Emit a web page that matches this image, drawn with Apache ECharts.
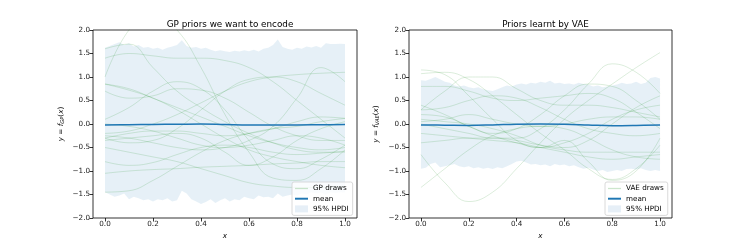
<!DOCTYPE html>
<html><head><meta charset="utf-8">
<script src="https://cdn.jsdelivr.net/npm/echarts/dist/echarts.min.js"></script>
<style>html,body{margin:0;padding:0;background:#fff}#c{width:747px;height:249px}</style>
</head><body><div id="c"></div>
<script>
// ---------- data ----------
const xDraw = [0,0.1,0.2,0.3,0.4,0.5,0.6,0.7,0.8,0.9,1.0];
const xTicks = [0,0.2,0.4,0.6,0.8,1.0];
const yTicks = [-2,-1.5,-1,-0.5,0,0.5,1,1.5,2];

const gpDraws = [
 [1.0, 2.0, 2.35, 2.0, 1.2, 0.2, -0.6, -1.15, -1.2, -0.95, -0.55],
 [1.6, 1.7, 1.2, 0.7, 0.35, 0.05, -0.2, -0.4, -0.55, -0.6, -0.6],
 [1.4, 1.5, 1.45, 1.4, 1.4, 1.35, 1.2, 0.9, 0.5, 0.1, -0.3],
 [0.85, 0.72, 0.55, 0.3, 0.0, -0.3, -0.55, -0.7, -0.8, -0.88, -0.93],
 [0.85, 0.75, 0.55, 0.35, 0.15, -0.05, -0.25, -0.4, -0.5, -0.55, -0.5],
 [0.1, 0.35, 0.7, 0.9, 0.75, 0.3, -0.35, -0.85, -0.95, -0.75, -0.45],
 [0.7, 0.55, 0.6, 0.75, 0.72, 0.55, 0.25, -0.05, -0.25, -0.35, -0.35],
 [-0.3, -0.4, -0.35, -0.1, 0.3, 0.7, 0.95, 1.0, 0.9, 0.65, 0.4],
 [-1.45, -1.42, -1.2, -0.9, -0.6, -0.35, -0.2, -0.1, -0.05, 0.05, 0.12],
 [-0.2, -0.15, 0.0, 0.2, 0.45, 0.7, 0.9, 1.0, 1.05, 1.08, 1.1],
 [-1.05, -1.0, -0.97, -0.95, -0.92, -0.9, -0.88, -0.85, -0.83, -0.8, -0.8],
 [-0.8, -0.88, -0.82, -0.65, -0.5, -0.45, -0.5, -0.6, -0.65, -0.62, -0.58],
 [-0.25, -0.3, -0.4, -0.5, -0.55, -0.5, -0.35, -0.05, 0.55, 1.2, 0.9],
 [-0.35, -0.3, -0.25, -0.2, -0.3, -0.6, -0.88, -0.7, -0.35, -0.1, 0.05],
 [-0.5, -0.6, -0.7, -0.8, -0.95, -1.1, -1.25, -1.32, -1.35, -1.35, -1.33],
 [0.0, -0.05, -0.15, -0.3, -0.45, -0.5, -0.45, -0.35, -0.25, -0.3, -0.45],
 [-0.3, -0.2, -0.15, -0.15, -0.2, -0.25, -0.2, -0.1, 0.05, 0.15, 0.12]
];
const vaeDraws = [
 [1.15, 1.05, 0.6, 0.1, -0.35, -0.5, -0.35, -0.8, -1.2, -1.0, -0.3],
 [1.07, 1.1, 0.95, 0.6, 0.2, -0.2, -0.55, -0.95, -1.18, -0.95, -0.45],
 [-0.65, -1.25, -1.65, -1.45, -0.95, -0.4, 0.1, 0.5, 0.85, 1.2, 1.52],
 [0.3, 0.7, 1.0, 1.0, 0.75, 0.5, 0.4, 0.4, 0.35, 0.25, 0.15],
 [-1.35, -0.95, -0.55, -0.25, -0.1, -0.05, -0.1, -0.3, -0.55, -0.7, -0.75],
 [0.0, -0.1, -0.2, -0.3, -0.3, -0.1, 0.3, 0.85, 1.28, 1.1, 0.65],
 [0.4, 0.2, -0.05, -0.2, -0.1, 0.2, 0.6, 0.85, 0.8, 0.5, 0.1],
 [0.3, 0.35, 0.5, 0.6, 0.55, 0.35, 0.1, -0.1, -0.2, -0.25, -0.2],
 [0.2, 0.15, -0.05, -0.25, -0.4, -0.5, -0.4, -0.2, 0.1, 0.3, 0.4],
 [-0.4, -0.35, -0.3, -0.3, -0.35, -0.45, -0.5, -0.35, 0.0, 0.35, 0.6],
 [0.1, 0.05, 0.0, -0.1, -0.25, -0.45, -0.55, -0.6, -0.6, -0.6, -0.6],
 [-0.2, -0.25, -0.3, -0.35, -0.4, -0.5, -0.6, -0.7, -0.75, -0.7, -0.65],
 [0.8, 0.8, 0.7, 0.55, 0.5, 0.55, 0.6, 0.65, 0.55, 0.25, -0.1],
 [0.05, 0.1, 0.2, 0.1, 0.0, -0.05, 0.0, 0.1, 0.15, 0.15, 0.1]
];
const gpMean  = [-0.02,-0.015,-0.01,-0.005,0.0,-0.01,-0.02,-0.02,-0.02,-0.015,-0.01];
const vaeMean = [-0.02,-0.025,-0.03,-0.02,-0.005,0.0,-0.005,-0.02,-0.035,-0.03,-0.02];

const xBand = [0,0.02,0.04,0.06,0.08,0.1,0.12,0.14,0.16,0.18,0.2,0.22,0.24,0.26,0.28,0.3,0.32,0.34,0.36,0.38,0.4,0.42,0.44,0.46,0.48,0.5,0.52,0.54,0.56,0.58,0.6,0.62,0.64,0.66,0.68,0.7,0.72,0.74,0.76,0.78,0.8,0.82,0.84,0.86,0.88,0.9,0.92,0.94,0.96,0.98,1.0];
const gpUpper = [1.62,1.66,1.70,1.74,1.68,1.72,1.65,1.68,1.62,1.64,1.60,1.62,1.58,1.62,1.65,1.68,1.78,1.66,1.62,1.64,1.60,1.62,1.58,1.55,1.57,1.55,1.53,1.56,1.54,1.57,1.55,1.58,1.54,1.60,1.62,1.68,1.80,1.64,1.60,1.58,1.62,1.60,1.65,1.63,1.66,1.62,1.72,1.70,1.70,1.71,1.70];
const gpLower = [-1.45,-1.50,-1.55,-1.52,-1.48,-1.60,-1.55,-1.58,-1.62,-1.60,-1.65,-1.60,-1.62,-1.58,-1.65,-1.62,-1.42,-1.48,-1.60,-1.65,-1.70,-1.66,-1.60,-1.68,-1.62,-1.58,-1.65,-1.60,-1.62,-1.55,-1.58,-1.60,-1.52,-1.56,-1.55,-1.58,-1.48,-1.55,-1.52,-1.50,-1.52,-1.48,-1.50,-1.45,-1.48,-1.46,-1.50,-1.45,-1.47,-1.45,-1.46];
const vaeUpper = [0.93,0.92,0.96,1.00,0.95,0.90,0.88,0.82,0.80,0.82,0.78,0.76,0.78,0.74,0.72,0.70,0.74,0.78,0.82,0.80,0.84,0.86,0.84,0.88,0.86,0.90,0.88,0.92,0.86,0.88,0.85,0.86,0.84,0.88,0.85,0.84,0.80,0.82,0.78,0.80,0.82,0.84,0.88,0.85,0.86,0.90,0.85,0.88,0.98,1.00,0.97];
const vaeLower = [-0.95,-0.93,-0.85,-0.82,-0.92,-0.90,-0.88,-0.85,-0.90,-0.92,-0.90,-0.94,-0.92,-0.95,-0.93,-0.96,-0.92,-0.94,-0.90,-0.85,-0.80,-0.78,-0.82,-0.86,-0.85,-0.88,-0.86,-0.90,-0.85,-0.88,-0.86,-0.90,-0.88,-0.92,-0.95,-0.93,-0.97,-1.00,-0.98,-1.02,-1.00,-0.98,-1.00,-0.96,-0.95,-0.97,-0.94,-0.98,-1.00,-0.98,-1.00];

// ---------- styles ----------
const FONT = 'DejaVu Sans';
const DRAW_COLOR = 'rgba(0,128,0,0.14)';
const BAND_COLOR = 'rgba(31,119,180,0.11)';
const MEAN_COLOR = '#1f77b4';

function pairs(xs, ys){ return xs.map((x,i)=>[x, ys[i]]); }
function fmtY(v){ return v.toFixed(1).replace('-', '\u2212'); }

function xAxisDef(gi){
  return {
    type:'value', gridIndex:gi, min:-0.05, max:1.05,
    name:'x', nameLocation:'middle', nameGap:15,
    nameTextStyle:{fontFamily:FONT, fontSize:7.2, fontStyle:'italic', color:'#000'},
    axisLine:{show:false, onZero:false}, splitLine:{show:false},
    axisTick:{show:true, inside:false, length:3.5, lineStyle:{color:'#000', width:0.8}, customValues:xTicks},
    axisLabel:{fontFamily:FONT, fontSize:7.2, color:'#222', margin:3, customValues:xTicks, formatter:v=>v.toFixed(1)}
  };
}
function yAxisDef(gi, sub){
  return {
    type:'value', gridIndex:gi, min:-2, max:2, interval:0.5,
    name:'{it|y} = {it|f}{sub|'+sub+'}({it|x})', nameLocation:'middle', nameGap:sub==='GP'?28:29, nameRotate:90,
    nameTextStyle:{fontFamily:FONT, fontSize:7.2, color:'#000',
      rich:{it:{fontFamily:FONT, fontSize:7.2, fontStyle:'italic', color:'#000'},
            sub:{fontFamily:FONT, fontSize:5.2, fontStyle:'italic', color:'#000', padding:[3,0,0,0]}}},
    axisLine:{show:false, onZero:false}, splitLine:{show:false},
    axisTick:{show:true, inside:false, length:3.5, lineStyle:{color:'#000', width:0.8}},
    axisLabel:{fontFamily:FONT, fontSize:7.2, color:'#222', margin:3, formatter:fmtY}
  };
}

const series = [];
function addPanel(gi, draws, drawName, mean, upper, lower){
  const bandData = xBand.map((x,i)=>[x, lower[i], upper[i]]);
  series.push({type:'custom', name:'95% HPDI', xAxisIndex:gi, yAxisIndex:gi, data:bandData,
    encode:{x:0, y:[1,2]}, silent:true, z:1, itemStyle:{color:BAND_COLOR},
    renderItem:function(params, api){
      if (params.dataIndex !== 0) return null;
      const top = [], bot = [];
      for (let i=0;i<bandData.length;i++){
        top.push(api.coord([bandData[i][0], bandData[i][2]]));
        bot.push(api.coord([bandData[i][0], bandData[i][1]]));
      }
      return {type:'polygon', shape:{points: top.concat(bot.reverse())}, style:{fill:BAND_COLOR}};
    }});
  draws.forEach(d=>{
    series.push({type:'line', name:drawName, xAxisIndex:gi, yAxisIndex:gi, data:pairs(xDraw, d),
      smooth:0.45, symbol:'none', lineStyle:{color:DRAW_COLOR, width:1}, itemStyle:{color:DRAW_COLOR}, silent:true, z:2});
  });
  series.push({type:'line', name:'mean', xAxisIndex:gi, yAxisIndex:gi, data:pairs(xDraw, mean),
    smooth:0.4, symbol:'none', lineStyle:{color:MEAN_COLOR, width:1.5}, itemStyle:{color:MEAN_COLOR}, silent:true, z:3});
}
addPanel(0, gpDraws, 'GP draws', gpMean, gpUpper, gpLower);
addPanel(1, vaeDraws, 'VAE draws', vaeMean, vaeUpper, vaeLower);

function legendDef(left, drawName){
  return {
    orient:'vertical', left:left, top:182, padding:[3,4,3,3], itemGap:3.2,
    itemWidth:13, itemHeight:7, backgroundColor:'rgba(255,255,255,0.8)',
    borderColor:'#d0d0d0', borderWidth:0.8, borderRadius:2,
    textStyle:{fontFamily:FONT, fontSize:7.2, color:'#000'},
    selectedMode:false,
    data:[
      {name:drawName, icon:'path://M0,0.5L10,0.5L10,1.5L0,1.5Z', itemStyle:{color:'rgba(0,128,0,0.2)'}},
      {name:'mean', icon:'path://M0,0.5L10,0.5L10,2L0,2Z', itemStyle:{color:MEAN_COLOR}},
      {name:'95% HPDI', icon:'rect', itemStyle:{color:'#e6eff7'}}
    ]
  };
}

const option = {
  animation:false,
  title:[
    {text:'GP priors we want to encode', left:225, top:15, textAlign:'center',
     textStyle:{fontFamily:FONT, fontSize:8.8, fontWeight:'normal', color:'#000'}},
    {text:'Priors learnt by VAE', left:540.5, top:15, textAlign:'center',
     textStyle:{fontFamily:FONT, fontSize:8.8, fontWeight:'normal', color:'#000'}}
  ],
  grid:[
    {left:93, top:30, width:264, height:188, show:true, borderColor:'#000', borderWidth:0.8, backgroundColor:'transparent'},
    {left:409, top:30, width:263, height:188, show:true, borderColor:'#000', borderWidth:0.8, backgroundColor:'transparent'}
  ],
  xAxis:[xAxisDef(0), xAxisDef(1)],
  yAxis:[yAxisDef(0,'GP'), yAxisDef(1,'VAE')],
  legend:[legendDef(292,'GP draws'), legendDef(605,'VAE draws')],
  series:series
};
const chart = echarts.init(document.getElementById('c'), null, {renderer:'canvas'});
chart.setOption(option);
</script></body></html>
